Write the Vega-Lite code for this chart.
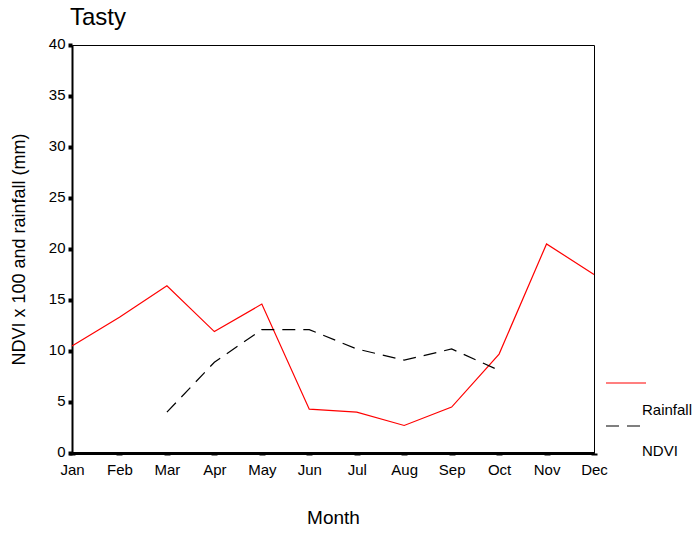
{
  "$schema": "https://vega.github.io/schema/vega-lite/v6.json",
  "width": 522,
  "height": 408,
  "autosize": {"type": "none"},
  "padding": {"left": 72, "top": 45, "right": 105, "bottom": 80},
  "background": "white",
  "title": {"text": "Tasty", "anchor": "start", "frame": "group", "font": "Liberation Sans", "fontSize": 24, "fontWeight": "normal", "color": "black", "offset": 6, "dx": -2},
  "config": {
    "view": {"stroke": "black", "strokeWidth": 1},
    "font": "Liberation Sans"
  },
  "data": {"values": [
    {"month": "Jan", "series": "Rainfall", "value": 10.5},
    {"month": "Feb", "series": "Rainfall", "value": 13.3},
    {"month": "Mar", "series": "Rainfall", "value": 16.4},
    {"month": "Apr", "series": "Rainfall", "value": 11.9},
    {"month": "May", "series": "Rainfall", "value": 14.6},
    {"month": "Jun", "series": "Rainfall", "value": 4.3},
    {"month": "Jul", "series": "Rainfall", "value": 4.0},
    {"month": "Aug", "series": "Rainfall", "value": 2.7},
    {"month": "Sep", "series": "Rainfall", "value": 4.5},
    {"month": "Oct", "series": "Rainfall", "value": 9.7},
    {"month": "Nov", "series": "Rainfall", "value": 20.5},
    {"month": "Dec", "series": "Rainfall", "value": 17.5},
    {"month": "Mar", "series": "NDVI", "value": 4.0},
    {"month": "Apr", "series": "NDVI", "value": 8.9},
    {"month": "May", "series": "NDVI", "value": 12.1},
    {"month": "Jun", "series": "NDVI", "value": 12.1},
    {"month": "Jul", "series": "NDVI", "value": 10.2},
    {"month": "Aug", "series": "NDVI", "value": 9.1},
    {"month": "Sep", "series": "NDVI", "value": 10.2},
    {"month": "Oct", "series": "NDVI", "value": 8.1}
  ]},
  "encoding": {
    "x": {
      "field": "month", "type": "ordinal",
      "sort": ["Jan","Feb","Mar","Apr","May","Jun","Jul","Aug","Sep","Oct","Nov","Dec"],
      "scale": {"type": "point", "padding": 0, "domain": ["Jan","Feb","Mar","Apr","May","Jun","Jul","Aug","Sep","Oct","Nov","Dec"]},
      "title": "Month",
      "axis": {
        "labelAngle": 0, "labelFontSize": 15, "labelColor": "black", "labelPadding": 7,
        "domainColor": "black", "domainWidth": 3,
        "tickColor": "black", "tickSize": 2, "tickWidth": 6,
        "titleFontSize": 19, "titleFontWeight": "normal", "titleColor": "black", "titlePadding": 31,
        "grid": false
      }
    },
    "y": {
      "field": "value", "type": "quantitative",
      "scale": {"domain": [0, 40], "nice": false},
      "title": "NDVI x 100 and rainfall (mm)",
      "axis": {
        "values": [0,5,10,15,20,25,30,35,40],
        "labelFontSize": 15, "labelColor": "black", "labelPadding": 3, "labelOffset": -2,
        "domainColor": "black", "domainWidth": 2,
        "tickColor": "black", "tickSize": 4, "tickWidth": 4,
        "titleFontSize": 18, "titleFontWeight": "normal", "titleColor": "black", "titlePadding": 20,
        "grid": false
      }
    }
  },
  "layer": [
    {
      "transform": [{"filter": "datum.series === 'Rainfall'"}],
      "mark": {"type": "line", "strokeWidth": 1.2},
      "encoding": {
        "color": {
          "field": "series", "type": "nominal",
          "scale": {"domain": ["Rainfall"], "range": ["#ff0000"]},
          "legend": {
            "orient": "none", "legendX": 533, "legendY": 317, "title": null,
            "symbolType": "stroke", "symbolSize": 1600, "symbolStrokeWidth": 1.2,
            "labelFontSize": 15, "labelColor": "black", "labelOffset": -5,
            "encode": {"labels": {"update": {"dy": {"value": 27}}}}
          }
        }
      }
    },
    {
      "transform": [{"filter": "datum.series === 'NDVI'"}],
      "mark": {"type": "line", "strokeWidth": 1.2, "color": "black"},
      "encoding": {
        "strokeDash": {
          "field": "series", "type": "nominal",
          "scale": {"domain": ["NDVI"], "range": [[13, 8]]},
          "legend": {
            "orient": "none", "legendX": 533, "legendY": 360, "title": null,
            "symbolType": "stroke", "symbolSize": 1600, "symbolStrokeWidth": 1.2,
            "symbolStrokeColor": "black",
            "labelFontSize": 15, "labelColor": "black", "labelOffset": -5,
            "encode": {"labels": {"update": {"dy": {"value": 25}}}}
          }
        }
      }
    }
  ],
  "resolve": {"scale": {"color": "independent", "strokeDash": "independent"}, "legend": {"color": "independent", "strokeDash": "independent"}}
}
